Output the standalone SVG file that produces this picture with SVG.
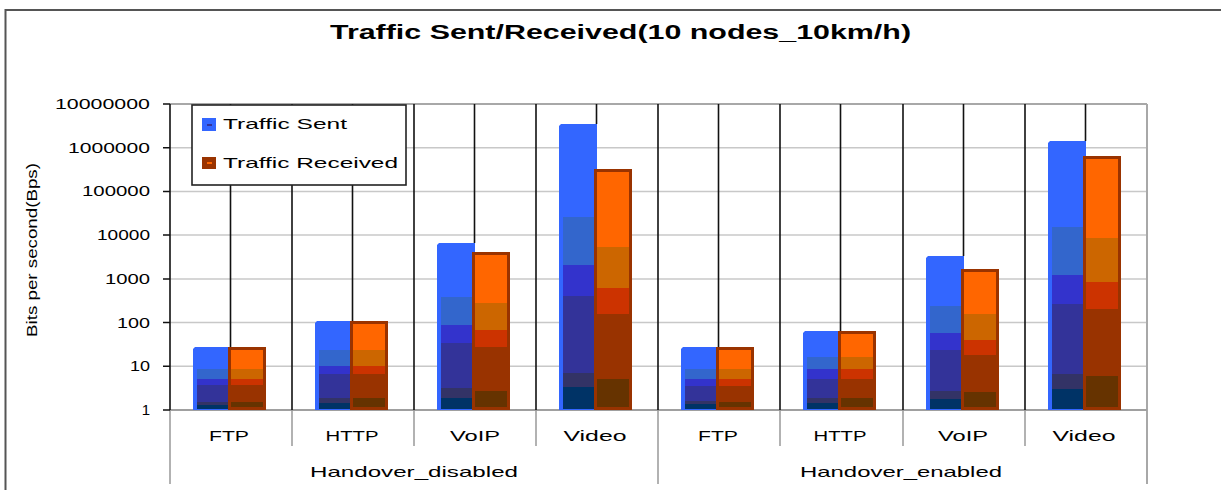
<svg xmlns="http://www.w3.org/2000/svg" width="1221" height="490" viewBox="0 0 1221 490">
<style>
text{font-family:"Liberation Sans",Arial,sans-serif;fill:#000}
.ttl{font-size:20px;font-weight:bold}
.yl{font-size:15px;text-anchor:end}
.xl{font-size:15px;text-anchor:middle}
.grid{stroke:#c8c8c8;stroke-width:1.5}
.blk{stroke:#111;stroke-width:1.6}
.tick{stroke:#999;stroke-width:1.5}
.sent{fill:#3366ff}
.b2{fill:#3366cc}.b3{fill:#3333cc}.b4{fill:#333399}.b5{fill:#333366}.b6{fill:#003366}
.rcv{fill:#993300}
.o1{fill:#ff6600}.o2{fill:#cc6600}.o3{fill:#cc3300}.o4{fill:#993300}.o5{fill:#663300}
</style>
<rect width="1221" height="490" fill="#fff"/>
<path d="M5.5 490V10H1221" fill="none" stroke="#555" stroke-width="2"/>
<g id="title"><text class="ttl" x="330" y="39" textLength="581" lengthAdjust="spacingAndGlyphs">Traffic Sent/Received(10 nodes_10km/h)</text></g>
<g id="grid">
<line class="grid" x1="170" y1="147.7" x2="1147" y2="147.7"/>
<line class="grid" x1="170" y1="191.4" x2="1147" y2="191.4"/>
<line class="grid" x1="170" y1="235.1" x2="1147" y2="235.1"/>
<line class="grid" x1="170" y1="278.9" x2="1147" y2="278.9"/>
<line class="grid" x1="170" y1="322.6" x2="1147" y2="322.6"/>
<line class="grid" x1="170" y1="366.3" x2="1147" y2="366.3"/>
<line x1="170" y1="104" x2="1147" y2="104" stroke="#a8a8a8" stroke-width="2"/>
<line x1="1147" y1="104" x2="1147" y2="484" stroke="#a8a8a8" stroke-width="2"/>
<line x1="170" y1="410" x2="1147" y2="410" stroke="#a0a0a0" stroke-width="2"/>
</g>
<g id="ticks">
<line class="tick" x1="292" y1="410" x2="292" y2="446"/>
<line class="tick" x1="414" y1="410" x2="414" y2="446"/>
<line class="tick" x1="536" y1="410" x2="536" y2="446"/>
<line class="tick" x1="780" y1="410" x2="780" y2="446"/>
<line class="tick" x1="903" y1="410" x2="903" y2="446"/>
<line class="tick" x1="1025" y1="410" x2="1025" y2="446"/>
<line class="tick" x1="170" y1="410" x2="170" y2="484"/>
<line class="tick" x1="658" y1="410" x2="658" y2="484"/>
<path d="M163 104h7M163 147.7h7M163 191.4h7M163 235.1h7M163 278.9h7M163 322.6h7M163 366.3h7M163 410h7" stroke="#111" stroke-width="1.5"/>
</g>
<g id="connectors">
<line class="blk" x1="170" y1="104" x2="170" y2="410"/>
<line class="blk" x1="292" y1="104" x2="292" y2="410"/>
<line class="blk" x1="414" y1="104" x2="414" y2="410"/>
<line class="blk" x1="536" y1="104" x2="536" y2="410"/>
<line class="blk" x1="658" y1="104" x2="658" y2="410"/>
<line class="blk" x1="780" y1="104" x2="780" y2="410"/>
<line class="blk" x1="903" y1="104" x2="903" y2="410"/>
<line class="blk" x1="1025" y1="104" x2="1025" y2="410"/>
<line class="blk" x1="230.5" y1="104" x2="230.5" y2="347"/>
<line class="blk" x1="352.5" y1="104" x2="352.5" y2="321"/>
<line class="blk" x1="474.5" y1="104" x2="474.5" y2="243"/>
<line class="blk" x1="596.5" y1="104" x2="596.5" y2="124"/>
<line class="blk" x1="718.5" y1="104" x2="718.5" y2="347"/>
<line class="blk" x1="840.5" y1="104" x2="840.5" y2="331"/>
<line class="blk" x1="963.5" y1="104" x2="963.5" y2="256"/>
<line class="blk" x1="1085.5" y1="104" x2="1085.5" y2="141"/>
</g>
<g id="bar-disabled-ftp">
<polygon class="sent" points="193,349 195,347 231,347 231,410 193,410"/>
<rect class="b2" x="197" y="369" width="34" height="10"/><rect class="b3" x="197" y="379" width="34" height="6"/><rect class="b4" x="197" y="385" width="34" height="17"/><rect class="b5" x="197" y="402" width="34" height="3"/><rect class="b6" x="197" y="405" width="34" height="4"/>
<rect class="rcv" x="228" y="347" width="38" height="63"/>
<rect class="o1" x="231" y="350" width="32" height="19"/><rect class="o2" x="231" y="369" width="32" height="10"/><rect class="o3" x="231" y="379" width="32" height="6"/><rect class="o4" x="231" y="385" width="32" height="17"/><rect class="o5" x="231" y="402" width="32" height="5"/>
</g>
<g id="bar-disabled-http">
<polygon class="sent" points="315,323 317,321 353,321 353,410 315,410"/>
<rect class="b2" x="319" y="350" width="34" height="16"/><rect class="b3" x="319" y="366" width="34" height="8"/><rect class="b4" x="319" y="374" width="34" height="24"/><rect class="b5" x="319" y="398" width="34" height="5"/><rect class="b6" x="319" y="403" width="34" height="6"/>
<rect class="rcv" x="350" y="321" width="38" height="89"/>
<rect class="o1" x="353" y="324" width="32" height="26"/><rect class="o2" x="353" y="350" width="32" height="16"/><rect class="o3" x="353" y="366" width="32" height="8"/><rect class="o4" x="353" y="374" width="32" height="24"/><rect class="o5" x="353" y="398" width="32" height="9"/>
</g>
<g id="bar-disabled-voip">
<polygon class="sent" points="437,245 439,243 475,243 475,410 437,410"/>
<rect class="b2" x="441" y="297" width="34" height="28"/><rect class="b3" x="441" y="325" width="34" height="18"/><rect class="b4" x="441" y="343" width="34" height="45"/><rect class="b5" x="441" y="388" width="34" height="10"/><rect class="b6" x="441" y="398" width="34" height="11"/>
<rect class="rcv" x="472" y="252" width="38" height="158"/>
<rect class="o1" x="475" y="255" width="32" height="48"/><rect class="o2" x="475" y="303" width="32" height="27"/><rect class="o3" x="475" y="330" width="32" height="17"/><rect class="o4" x="475" y="347" width="32" height="44"/><rect class="o5" x="475" y="391" width="32" height="16"/>
</g>
<g id="bar-disabled-video">
<polygon class="sent" points="559,126 561,124 597,124 597,410 559,410"/>
<rect class="b2" x="563" y="217" width="34" height="48"/><rect class="b3" x="563" y="265" width="34" height="31"/><rect class="b4" x="563" y="296" width="34" height="77"/><rect class="b5" x="563" y="373" width="34" height="14"/><rect class="b6" x="563" y="387" width="34" height="22"/>
<rect class="rcv" x="594" y="169" width="38" height="241"/>
<rect class="o1" x="597" y="172" width="32" height="75"/><rect class="o2" x="597" y="247" width="32" height="41"/><rect class="o3" x="597" y="288" width="32" height="26"/><rect class="o4" x="597" y="314" width="32" height="65"/><rect class="o5" x="597" y="379" width="32" height="28"/>
</g>
<g id="bar-enabled-ftp">
<polygon class="sent" points="681,349 683,347 719,347 719,410 681,410"/>
<rect class="b2" x="685" y="369" width="34" height="10"/><rect class="b3" x="685" y="379" width="34" height="7"/><rect class="b4" x="685" y="386" width="34" height="15"/><rect class="b5" x="685" y="401" width="34" height="3"/><rect class="b6" x="685" y="404" width="34" height="5"/>
<rect class="rcv" x="716" y="347" width="38" height="63"/>
<rect class="o1" x="719" y="350" width="32" height="19"/><rect class="o2" x="719" y="369" width="32" height="10"/><rect class="o3" x="719" y="379" width="32" height="7"/><rect class="o4" x="719" y="386" width="32" height="16"/><rect class="o5" x="719" y="402" width="32" height="5"/>
</g>
<g id="bar-enabled-http">
<polygon class="sent" points="803,333 805,331 841,331 841,410 803,410"/>
<rect class="b2" x="807" y="357" width="34" height="12"/><rect class="b3" x="807" y="369" width="34" height="10"/><rect class="b4" x="807" y="379" width="34" height="19"/><rect class="b5" x="807" y="398" width="34" height="5"/><rect class="b6" x="807" y="403" width="34" height="6"/>
<rect class="rcv" x="838" y="331" width="38" height="79"/>
<rect class="o1" x="841" y="334" width="32" height="23"/><rect class="o2" x="841" y="357" width="32" height="12"/><rect class="o3" x="841" y="369" width="32" height="10"/><rect class="o4" x="841" y="379" width="32" height="19"/><rect class="o5" x="841" y="398" width="32" height="9"/>
</g>
<g id="bar-enabled-voip">
<polygon class="sent" points="926,258 928,256 964,256 964,410 926,410"/>
<rect class="b2" x="930" y="306" width="34" height="27"/><rect class="b3" x="930" y="333" width="34" height="17"/><rect class="b4" x="930" y="350" width="34" height="41"/><rect class="b5" x="930" y="391" width="34" height="8"/><rect class="b6" x="930" y="399" width="34" height="10"/>
<rect class="rcv" x="961" y="269" width="38" height="141"/>
<rect class="o1" x="964" y="272" width="32" height="42"/><rect class="o2" x="964" y="314" width="32" height="26"/><rect class="o3" x="964" y="340" width="32" height="15"/><rect class="o4" x="964" y="355" width="32" height="37"/><rect class="o5" x="964" y="392" width="32" height="15"/>
</g>
<g id="bar-enabled-video">
<polygon class="sent" points="1048,143 1050,141 1086,141 1086,410 1048,410"/>
<rect class="b2" x="1052" y="227" width="34" height="48"/><rect class="b3" x="1052" y="275" width="34" height="29"/><rect class="b4" x="1052" y="304" width="34" height="70"/><rect class="b5" x="1052" y="374" width="34" height="15"/><rect class="b6" x="1052" y="389" width="34" height="20"/>
<rect class="rcv" x="1083" y="156" width="38" height="254"/>
<rect class="o1" x="1086" y="159" width="32" height="79"/><rect class="o2" x="1086" y="238" width="32" height="44"/><rect class="o3" x="1086" y="282" width="32" height="27"/><rect class="o4" x="1086" y="309" width="32" height="67"/><rect class="o5" x="1086" y="376" width="32" height="31"/>
</g>
<g id="legend">
<rect x="192" y="105" width="214" height="80" fill="#fff" stroke="#222" stroke-width="1.6"/>
<rect class="sent" x="202" y="118" width="14" height="13"/><rect class="b4" x="207" y="124" width="5" height="2"/>
<text x="223" y="129" font-size="15" textLength="124" lengthAdjust="spacingAndGlyphs">Traffic Sent</text>
<rect class="rcv" x="202" y="157" width="14" height="12"/><rect class="o1" x="207" y="162" width="5" height="2"/>
<text x="223" y="168" font-size="15" textLength="175" lengthAdjust="spacingAndGlyphs">Traffic Received</text>
</g>
<g id="y-axis">
<text class="yl" x="150" y="109" textLength="95" lengthAdjust="spacingAndGlyphs">10000000</text>
<text class="yl" x="150" y="152.7" textLength="82" lengthAdjust="spacingAndGlyphs">1000000</text>
<text class="yl" x="150" y="196.4" textLength="68" lengthAdjust="spacingAndGlyphs">100000</text>
<text class="yl" x="150" y="240.1" textLength="53" lengthAdjust="spacingAndGlyphs">10000</text>
<text class="yl" x="150" y="283.9" textLength="45" lengthAdjust="spacingAndGlyphs">1000</text>
<text class="yl" x="150" y="327.6" textLength="33" lengthAdjust="spacingAndGlyphs">100</text>
<text class="yl" x="150" y="371.3" textLength="20" lengthAdjust="spacingAndGlyphs">10</text>
<text class="yl" x="150" y="415">1</text>
<text x="0" y="0" font-size="14" text-anchor="middle" transform="translate(37 250) rotate(-90)" textLength="174" lengthAdjust="spacingAndGlyphs">Bits per second(Bps)</text>
</g>
<g id="x-axis">
<text class="xl" x="229" y="441" textLength="40" lengthAdjust="spacingAndGlyphs">FTP</text>
<text class="xl" x="352" y="441" textLength="53" lengthAdjust="spacingAndGlyphs">HTTP</text>
<text class="xl" x="475" y="441" textLength="50" lengthAdjust="spacingAndGlyphs">VoIP</text>
<text class="xl" x="595" y="441" textLength="63" lengthAdjust="spacingAndGlyphs">Video</text>
<text class="xl" x="718" y="441" textLength="40" lengthAdjust="spacingAndGlyphs">FTP</text>
<text class="xl" x="840" y="441" textLength="53" lengthAdjust="spacingAndGlyphs">HTTP</text>
<text class="xl" x="963" y="441" textLength="50" lengthAdjust="spacingAndGlyphs">VoIP</text>
<text class="xl" x="1084" y="441" textLength="63" lengthAdjust="spacingAndGlyphs">Video</text>
<text class="xl" x="414" y="477" textLength="208" lengthAdjust="spacingAndGlyphs">Handover_disabled</text>
<text class="xl" x="901" y="477" textLength="202" lengthAdjust="spacingAndGlyphs">Handover_enabled</text>
</g>
</svg>
